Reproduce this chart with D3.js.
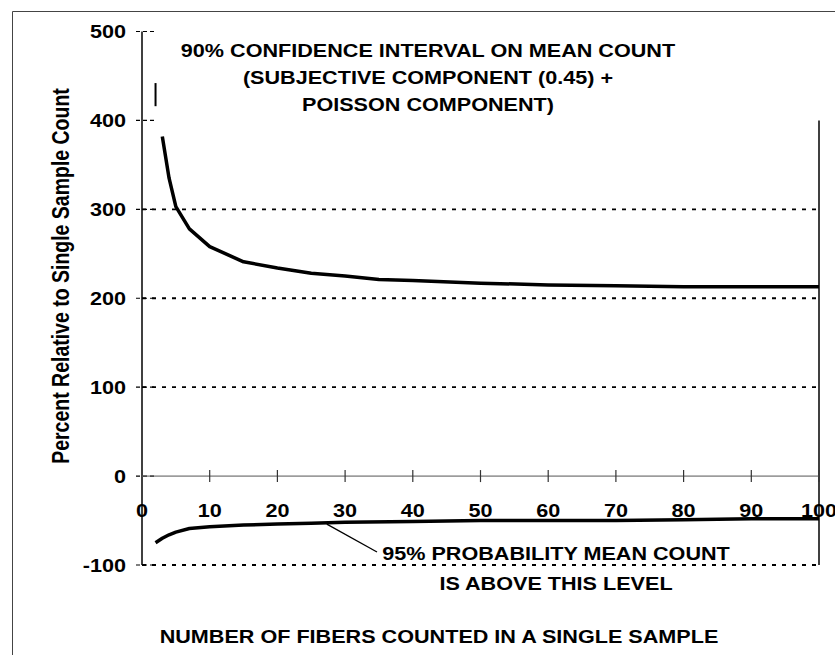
<!DOCTYPE html>
<html>
<head>
<meta charset="utf-8">
<script src="https://cdn.jsdelivr.net/npm/d3@7"></script>
<style>
  body { margin: 0; background: #fff; }
  text { font-family: 'Liberation Sans', Arial, sans-serif; font-weight: bold; fill: #000; }
</style>
</head>
<body>
<div id="chart"></div>
<script>
// 90% confidence interval, upper bound (percent relative to single sample count)
var upperX = [3, 4, 5, 7, 10, 15, 20, 25, 30, 35, 40, 50, 60, 70, 80, 90, 100];
var upperY = [382, 335, 303, 278, 258, 241, 234, 228, 225, 221, 220, 217, 215, 214, 213, 213, 213];
// 95% probability lower level
var lowerX = [2, 3, 4, 5, 7, 10, 15, 20, 25, 30, 40, 50, 60, 70, 80, 90, 100];
var lowerY = [-75, -70, -66, -63, -59, -57, -55, -54, -53, -52, -51, -50, -50, -50, -49, -48, -48];
// small off-scale fragment near x = 2
var fragX = [2, 2];
var fragY = [442, 416];

var yTicks = [500, 400, 300, 200, 100, 0, -100];
var yGrid = [300, 200, 100, -100];
var xTicks = [0, 10, 20, 30, 40, 50, 60, 70, 80, 90, 100];

var titleLines = ['90% CONFIDENCE INTERVAL ON MEAN COUNT',
  '(SUBJECTIVE COMPONENT (0.45) +',
  'POISSON COMPONENT)'];
var noteLines = ['95% PROBABILITY MEAN COUNT', 'IS ABOVE THIS LEVEL'];
var xTitle = 'NUMBER OF FIBERS COUNTED IN A SINGLE SAMPLE';
var yTitle = 'Percent Relative to Single Sample Count';

var W = 835, H = 655;
var stretch = 1.2; // text in the scan is widened

var svg = d3.select('#chart').append('svg')
  .attr('width', W).attr('height', H);

var x = d3.scaleLinear().domain([0, 100]).range([142, 819]);
var y = d3.scaleLinear().domain([-100, 500]).range([565, 31.5]);

// outer frame (top + left edges visible)
svg.append('path')
  .attr('d', 'M12.5,' + H + 'V11.5H' + W)
  .attr('fill', 'none').attr('stroke', '#444').attr('stroke-width', 1);

function label(px, py, txt, anchor, size) {
  svg.append('g')
    .attr('transform', 'translate(' + px + ',' + py + ') scale(' + stretch + ',1)')
    .append('text')
    .attr('text-anchor', anchor)
    .style('font-size', (size || 18) + 'px')
    .text(txt);
}

// dashed grid lines
svg.selectAll('.grid').data(yGrid).enter().append('line')
  .attr('class', 'grid')
  .attr('x1', x(0)).attr('x2', x(100))
  .attr('y1', function(d) { return y(d); })
  .attr('y2', function(d) { return y(d); })
  .attr('stroke', '#000').attr('stroke-width', 1.8)
  .attr('stroke-dasharray', '4,6');

// y axis
svg.append('line')
  .attr('x1', x(0)).attr('x2', x(0))
  .attr('y1', y(500)).attr('y2', y(-100))
  .attr('stroke', '#000').attr('stroke-width', 1.5);
svg.selectAll('.ytick').data(yTicks).enter().append('line')
  .attr('class', 'ytick')
  .attr('x1', x(0) - 6).attr('x2', x(0) + 14)
  .attr('y1', function(d) { return y(d); })
  .attr('y2', function(d) { return y(d); })
  .attr('stroke', '#000').attr('stroke-width', 1.2)
  .attr('stroke-dasharray', '4,3');
yTicks.forEach(function(d) {
  label(126, y(d) + 6.5, String(d), 'end');
});

// right border
svg.append('line')
  .attr('x1', x(100)).attr('x2', x(100))
  .attr('y1', y(400)).attr('y2', y(-100))
  .attr('stroke', '#000').attr('stroke-width', 1.5);

// x axis along zero
svg.append('line')
  .attr('x1', x(0)).attr('x2', x(100))
  .attr('y1', y(0)).attr('y2', y(0))
  .attr('stroke', '#555').attr('stroke-width', 1);
svg.selectAll('.xtick').data(xTicks.slice(1)).enter().append('line')
  .attr('class', 'xtick')
  .attr('x1', function(d) { return x(d); })
  .attr('x2', function(d) { return x(d); })
  .attr('y1', y(0) - 6).attr('y2', y(0) + 6)
  .attr('stroke', '#333').attr('stroke-width', 1.2);
xTicks.forEach(function(d) {
  label(x(d), y(0) + 41, String(d), 'middle');
});

// curves
var line = d3.line()
  .x(function(d) { return x(d[0]); })
  .y(function(d) { return y(d[1]); });

function series(xs, ys, w) {
  svg.append('path')
    .datum(d3.zip(xs, ys))
    .attr('d', line)
    .attr('fill', 'none')
    .attr('stroke', '#000')
    .attr('stroke-width', w)
    .attr('stroke-linejoin', 'round');
}
series(upperX, upperY, 3.5);
series(lowerX, lowerY, 3.5);
series(fragX, fragY, 2);

// title block
titleLines.forEach(function(t, i) {
  label(428, 57 + i * 27, t, 'middle');
});

// note with leader line
svg.append('line')
  .attr('x1', x(27.3)).attr('y1', y(-54))
  .attr('x2', 377).attr('y2', 552)
  .attr('stroke', '#000').attr('stroke-width', 1.3);
noteLines.forEach(function(t, i) {
  label(556, 560 + i * 30, t, 'middle');
});

// axis titles
label(439, 643, xTitle, 'middle');
svg.append('text')
  .attr('transform', 'translate(69,276) rotate(-90) scale(1,' + stretch + ')')
  .attr('text-anchor', 'middle')
  .style('font-size', '19.5px')
  .text(yTitle);
</script>
</body>
</html>
